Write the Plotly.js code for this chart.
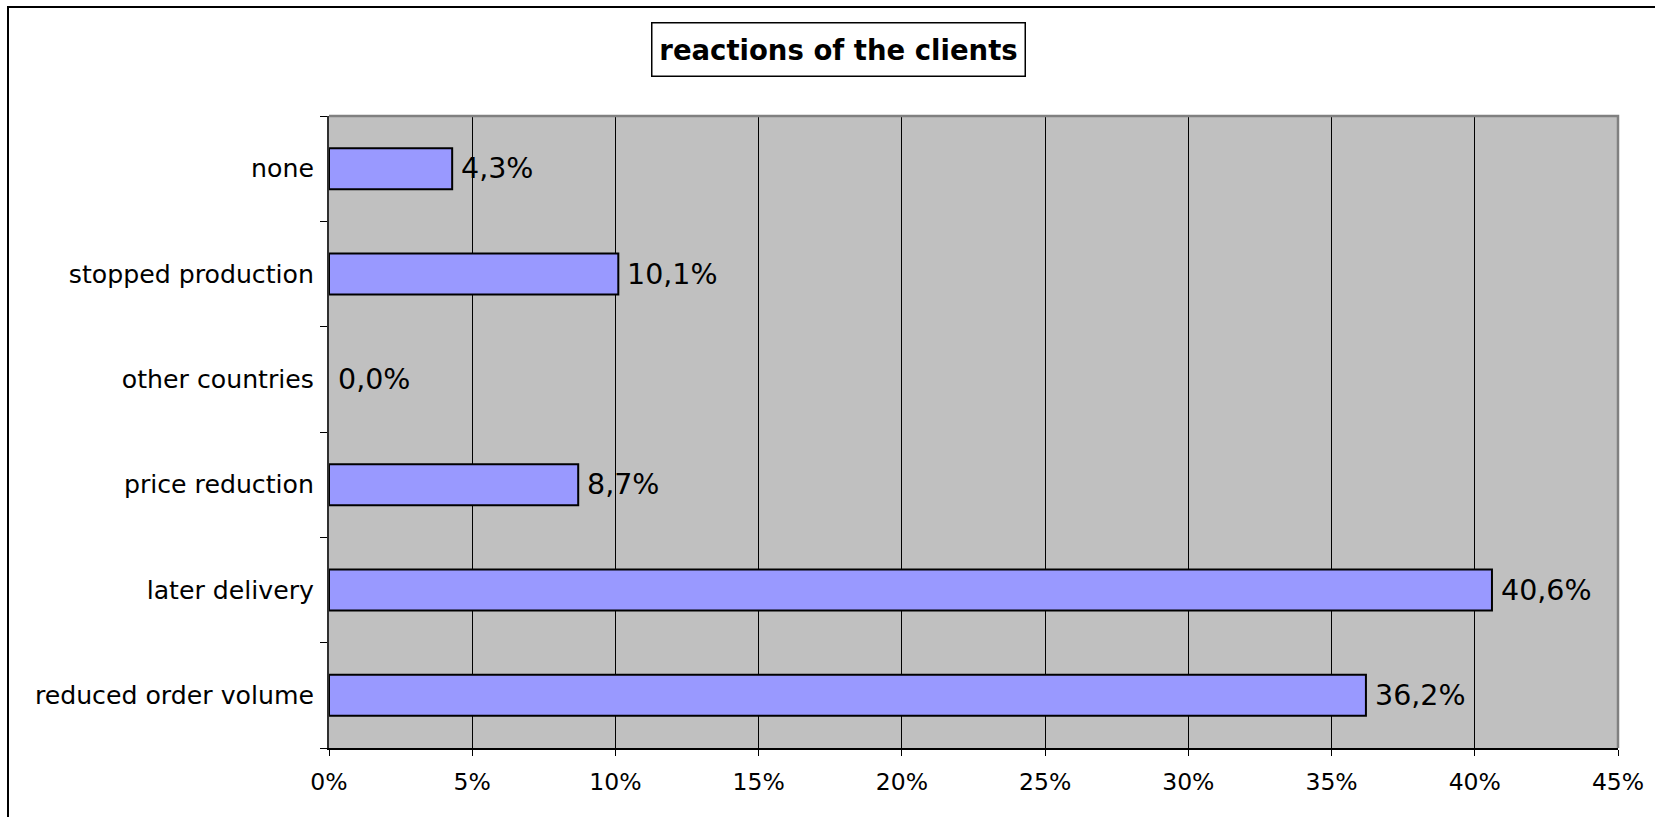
<!DOCTYPE html>
<html>
<head>
<meta charset="utf-8">
<script src="https://cdn.plot.ly/plotly-3.0.1.min.js"></script>
<style>
  html, body { margin: 0; padding: 0; background: #fff; }
  #wrap { position: relative; width: 1655px; height: 817px; overflow: hidden; }
  #chart { position: absolute; left: 0; top: 0; width: 1655px; height: 817px; }
  #frame { position: absolute; left: 7px; top: 6px; width: 1700px; height: 900px;
           border-left: 2px solid #000; border-top: 2px solid #000; pointer-events: none; }
</style>
</head>
<body>
<div id="wrap">
  <div id="chart"></div>
  <div id="frame"></div>
</div>
<script>
// Data (bottom to top as drawn)
const categories = ["reduced order volume", "later delivery", "price reduction", "other countries", "stopped production", "none"];
const values = [0.362, 0.406, 0.087, 0.0, 0.101, 0.043];
const labels = ["36,2%", "40,6%", "8,7%", "0,0%", "10,1%", "4,3%"];
const xTickVals = [0, 0.05, 0.10, 0.15, 0.20, 0.25, 0.30, 0.35, 0.40, 0.45];
const xTickText = ["0%", "5%", "10%", "15%", "20%", "25%", "30%", "35%", "40%", "45%"];
const chartTitle = "reactions of the clients";

const font = "DejaVu Sans, Verdana, sans-serif";

const trace = {
  type: "bar",
  orientation: "h",
  x: values,
  y: categories,
  marker: { color: "#9999ff", line: { color: "#000", width: values.map(v => v > 0 ? 2 : 0) } },
  hoverinfo: "none"
};

const annotations = categories.map((c, i) => ({
  x: values[i], y: c, xref: "x", yref: "y",
  text: labels[i], showarrow: false,
  xanchor: "left", yanchor: "middle", xshift: 7,
  font: { family: font, size: 28.5, color: "#000" }
}));

annotations.push({
  x: 0.3953, y: 1.1055, xref: "paper", yref: "paper",
  text: "<b>" + chartTitle + "</b>", showarrow: false,
  xanchor: "center", yanchor: "middle",
  bgcolor: "#fff", bordercolor: "#000", borderwidth: 1.5, borderpad: 3,
  width: 366, height: 46,
  font: { family: font, size: 27.5, color: "#000" }
});

const layout = {
  width: 1655, height: 817,
  margin: { l: 329, r: 37, t: 116, b: 69, pad: 0 },
  paper_bgcolor: "#fff",
  plot_bgcolor: "#c0c0c0",
  showlegend: false,
  bargap: 0.61,
  xaxis: {
    range: [0, 0.45],
    tickvals: xTickVals, ticktext: xTickText,
    showgrid: true, gridcolor: "#000", gridwidth: 1,
    zeroline: false,
    showline: true, linecolor: "#000", linewidth: 2,
    ticks: "outside", ticklen: 6, tickcolor: "#000", tickwidth: 1,
    ticklabelstandoff: 6,
    tickfont: { family: font, size: 23.5, color: "#000" },
    fixedrange: true
  },
  yaxis: {
    type: "category",
    categoryorder: "array", categoryarray: categories,
    showgrid: false, zeroline: false,
    showline: true, linecolor: "#303030", linewidth: 2,
    ticks: "outside", ticklen: 7, tickcolor: "#000", tickwidth: 1,
    tickson: "boundaries",
    ticklabelstandoff: 8,
    tickfont: { family: font, size: 25.2, color: "#000" },
    fixedrange: true
  },
  shapes: [{
    type: "path", xref: "paper", yref: "paper",
    path: "M 0,1 L 1,1 L 1,0",
    line: { color: "#808080", width: 2.5 }, layer: "above"
  }],
  annotations: annotations
};

Plotly.newPlot("chart", [trace], layout, { displayModeBar: false, staticPlot: true });
</script>
</body>
</html>
